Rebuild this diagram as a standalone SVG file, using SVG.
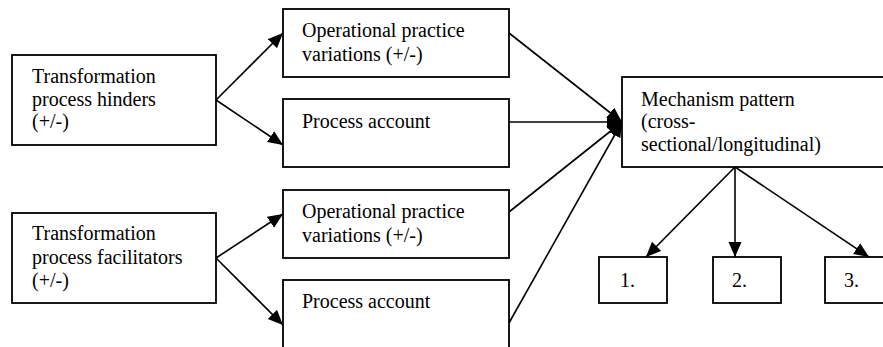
<svg xmlns="http://www.w3.org/2000/svg" width="883" height="347" viewBox="0 0 883 347">
  <style>
    .box { fill: #ffffff; stroke: #000000; stroke-width: 1.8; }
    .lbl { font-size: 20px; fill: #000000; }
    .edge { fill: none; stroke: #000000; stroke-width: 1.6; }
    .arrow { marker-end: url(#head); }
  </style>
  <defs>
    <marker id="head" markerUnits="userSpaceOnUse" markerWidth="16" markerHeight="14" refX="15" refY="6.5" orient="auto">
      <path d="M0,0 L15,6.5 L0,13 z" fill="#000000"/>
    </marker>
  </defs>
  <rect width="883" height="347" fill="#ffffff"/>

  <g id="connectors">
    <!-- hinders fan-out -->
    <line class="edge arrow" x1="216" y1="100" x2="283" y2="33"/>
    <line class="edge arrow" x1="216" y1="100" x2="283" y2="145"/>
    <!-- facilitators fan-out -->
    <line class="edge arrow" x1="216" y1="258" x2="283" y2="214"/>
    <line class="edge arrow" x1="216" y1="258" x2="283" y2="325"/>
    <!-- convergence on mechanism pattern -->
    <line class="edge arrow" x1="509" y1="33" x2="622" y2="122"/>
    <line class="edge arrow" x1="509" y1="122" x2="622" y2="122"/>
    <line class="edge arrow" x1="509" y1="212" x2="622" y2="122"/>
    <line class="edge arrow" x1="509" y1="323" x2="622" y2="122"/>
    <!-- mechanism pattern fan-out -->
    <line class="edge arrow" x1="735" y1="167" x2="646" y2="257"/>
    <line class="edge arrow" x1="735" y1="167" x2="735" y2="257"/>
    <line class="edge arrow" x1="735" y1="167" x2="869" y2="257"/>
  </g>

  <g font-family="Liberation Serif, Times New Roman, serif">
  <g id="hinders">
    <rect class="box" x="12" y="55" width="204" height="90"/>
    <text class="lbl" x="32" y="83">Transformation</text>
    <text class="lbl" x="32" y="106">process hinders</text>
    <text class="lbl" x="32" y="128">(+/-)</text>
  </g>

  <g id="facilitators">
    <rect class="box" x="12" y="213" width="204" height="90"/>
    <text class="lbl" x="32" y="240">Transformation</text>
    <text class="lbl" x="32" y="264">process facilitators</text>
    <text class="lbl" x="32" y="287">(+/-)</text>
  </g>

  <g id="variations-top">
    <rect class="box" x="283" y="9" width="226" height="68"/>
    <text class="lbl" x="302" y="37">Operational practice</text>
    <text class="lbl" x="302" y="61">variations (+/-)</text>
  </g>

  <g id="account-top">
    <rect class="box" x="283" y="99" width="226" height="68"/>
    <text class="lbl" x="302" y="128">Process account</text>
  </g>

  <g id="variations-bottom">
    <rect class="box" x="283" y="190" width="226" height="68"/>
    <text class="lbl" x="302" y="218">Operational practice</text>
    <text class="lbl" x="302" y="242">variations (+/-)</text>
  </g>

  <g id="account-bottom">
    <rect class="box" x="283" y="280" width="226" height="100"/>
    <text class="lbl" x="302" y="308">Process account</text>
  </g>

  <g id="mechanism">
    <rect class="box" x="622" y="77" width="300" height="90"/>
    <text class="lbl" x="641" y="106">Mechanism pattern</text>
    <text class="lbl" x="641" y="128">(cross-</text>
    <text class="lbl" x="641" y="151">sectional/longitudinal)</text>
  </g>

  <g id="outcome-1">
    <rect class="box" x="599" y="257" width="68" height="46"/>
    <text class="lbl" x="620" y="287">1.</text>
  </g>

  <g id="outcome-2">
    <rect class="box" x="713" y="257" width="68" height="46"/>
    <text class="lbl" x="732" y="287">2.</text>
  </g>

  <g id="outcome-3">
    <rect class="box" x="825" y="257" width="100" height="46"/>
    <text class="lbl" x="844" y="287">3.</text>
  </g>
  </g>
</svg>
